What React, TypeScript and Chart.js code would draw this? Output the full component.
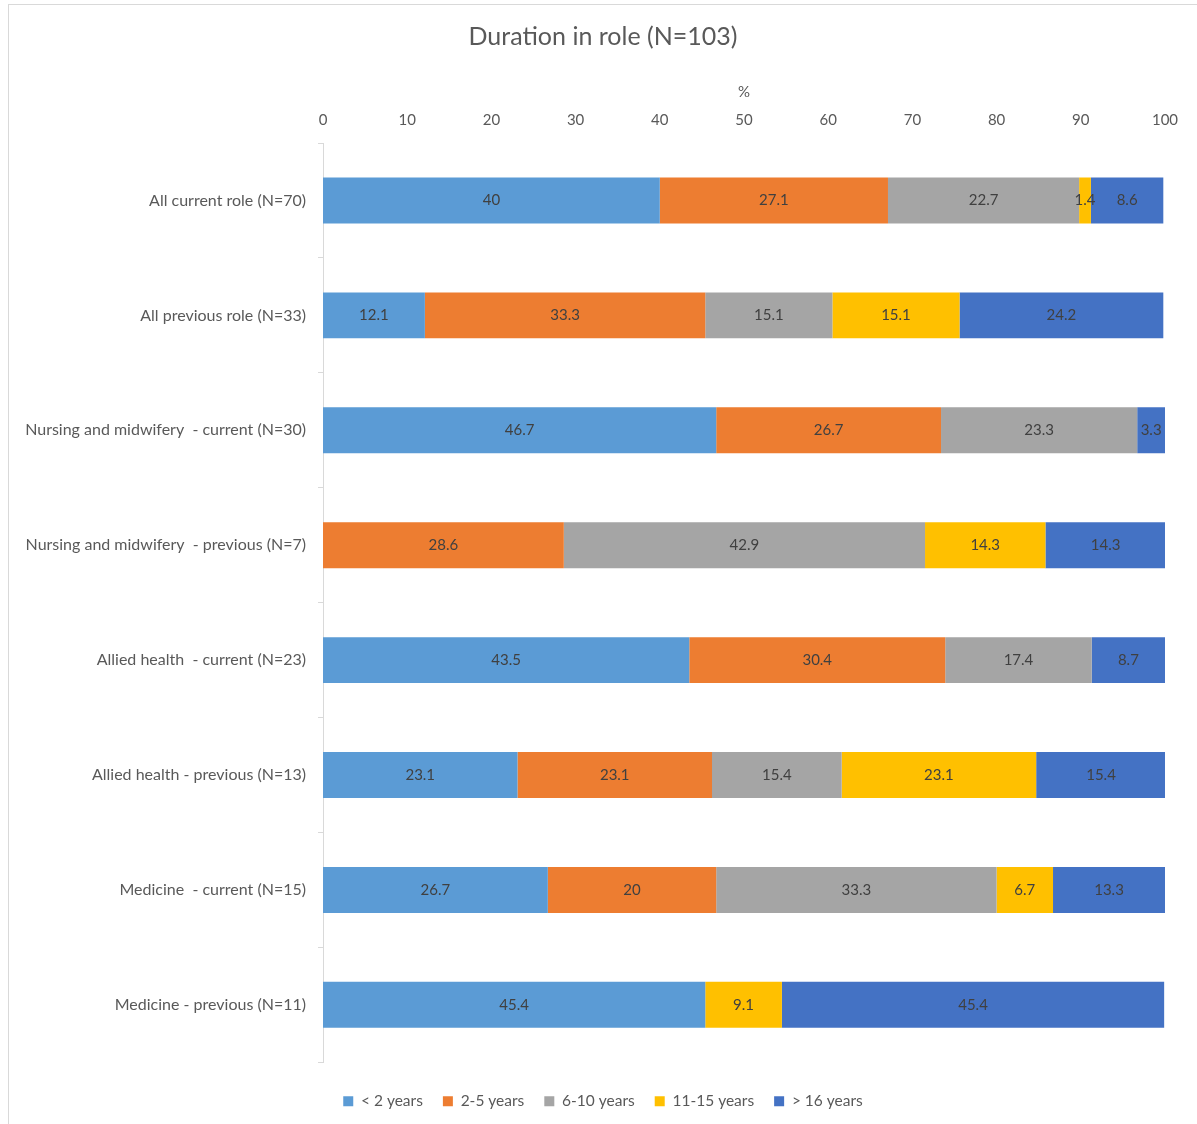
import React, { useEffect, useRef } from "react";
import { Chart, registerables } from "chart.js";

Chart.register(...registerables);

const categories = [
  "All current role (N=70)",
  "All previous role (N=33)",
  "Nursing and midwifery  - current (N=30)",
  "Nursing and midwifery  - previous (N=7)",
  "Allied health  - current (N=23)",
  "Allied health - previous (N=13)",
  "Medicine  - current (N=15)",
  "Medicine - previous (N=11)",
];

const seriesNames = ["< 2 years", "2-5 years", "6-10 years", "11-15 years", "> 16 years"];
const lessThan2 = [40, 12.1, 46.7, null, 43.5, 23.1, 26.7, 45.4];
const years2to5 = [27.1, 33.3, 26.7, 28.6, 30.4, 23.1, 20, null];
const years6to10 = [22.7, 15.1, 23.3, 42.9, 17.4, 15.4, 33.3, null];
const years11to15 = [1.4, 15.1, null, 14.3, null, 23.1, 6.7, 9.1];
const moreThan16 = [8.6, 24.2, 3.3, 14.3, 8.7, 15.4, 13.3, 45.4];
const seriesColors = ["#5B9BD5", "#ED7D31", "#A5A5A5", "#FFC000", "#4472C4"];

const FONT = "Lato, 'Noto Sans', sans-serif";

const dataLabelPlugin = {
  id: "dataLabels",
  afterDatasetsDraw(chart: any) {
    const ctx = chart.ctx;
    ctx.save();
    ctx.font = `15px ${FONT}`;
    ctx.fillStyle = "#404040";
    ctx.textAlign = "center";
    ctx.textBaseline = "middle";
    chart.data.datasets.forEach((ds: any, di: number) => {
      const meta = chart.getDatasetMeta(di);
      meta.data.forEach((el: any, i: number) => {
        const v = ds.data[i];
        if (v === null || v === undefined) return;
        const c = el.getCenterPoint();
        ctx.fillText(String(v), c.x, c.y);
      });
    });
    ctx.restore();
  },
};

export default function App() {
  const canvasRef = useRef<HTMLCanvasElement | null>(null);

  useEffect(() => {
    if (!canvasRef.current) return;
    const all = [lessThan2, years2to5, years6to10, years11to15, moreThan16];
    const chart = new Chart(canvasRef.current, {
      type: "bar",
      data: {
        labels: categories,
        datasets: all.map((d, i) => ({
          label: seriesNames[i],
          data: d,
          backgroundColor: seriesColors[i],
          borderWidth: 0,
          categoryPercentage: 1,
          barPercentage: 0.4,
        })),
      },
      options: {
        indexAxis: "y",
        animation: false,
        responsive: true,
        maintainAspectRatio: false,
        layout: { padding: { top: 9, right: 0, bottom: 5, left: 0 } },
        scales: {
          x: {
            position: "top",
            stacked: true,
            min: 0,
            max: 100,
            grid: { display: false },
            border: { display: false },
            ticks: {
              stepSize: 10,
              color: "#595959",
              font: { family: FONT, size: 15 },
              padding: 6,
            },
            title: {
              display: true,
              text: "%",
              color: "#595959",
              font: { family: FONT, size: 15 },
              padding: { top: 4, bottom: 9 },
            },
            afterFit: (scale: any) => {
              scale.height = 64;
              scale.paddingRight = 32;
            },
          },
          y: {
            stacked: true,
            grid: {
              display: true,
              drawOnChartArea: false,
              drawTicks: true,
              tickLength: 5,
              color: "#d9d9d9",
              offset: true,
            },
            border: { display: true, color: "#d9d9d9" },
            ticks: {
              color: "#595959",
              font: { family: FONT, size: 16 },
              padding: 12,
            },
            afterFit: (scale: any) => {
              scale.width = 314;
            },
          },
        },
        plugins: {
          title: {
            display: true,
            text: "Duration in role (N=103)",
            color: "#595959",
            font: { family: FONT, size: 25, weight: "normal" },
            padding: { top: 8, bottom: 27 },
          },
          legend: {
            position: "bottom",
            title: { display: true, text: " ", padding: 0, font: { size: 9.33 } },
            labels: {
              boxWidth: 10,
              boxHeight: 10,
              padding: 20,
              color: "#595959",
              font: { family: FONT, size: 15.5 },
            },
          },
          tooltip: { enabled: false },
        },
      },
      plugins: [dataLabelPlugin],
    } as any);
    return () => chart.destroy();
  }, []);

  return (
    <div
      style={{
        position: "absolute",
        left: 8,
        top: 4,
        width: 1189,
        height: 1120,
        boxSizing: "border-box",
        borderTop: "1px solid #d9d9d9",
        borderLeft: "1px solid #d9d9d9",
        background: "#fff",
      }}
    >
      <div style={{ position: "relative", width: "100%", height: "100%" }}>
        <canvas ref={canvasRef} />
      </div>
    </div>
  );
}
